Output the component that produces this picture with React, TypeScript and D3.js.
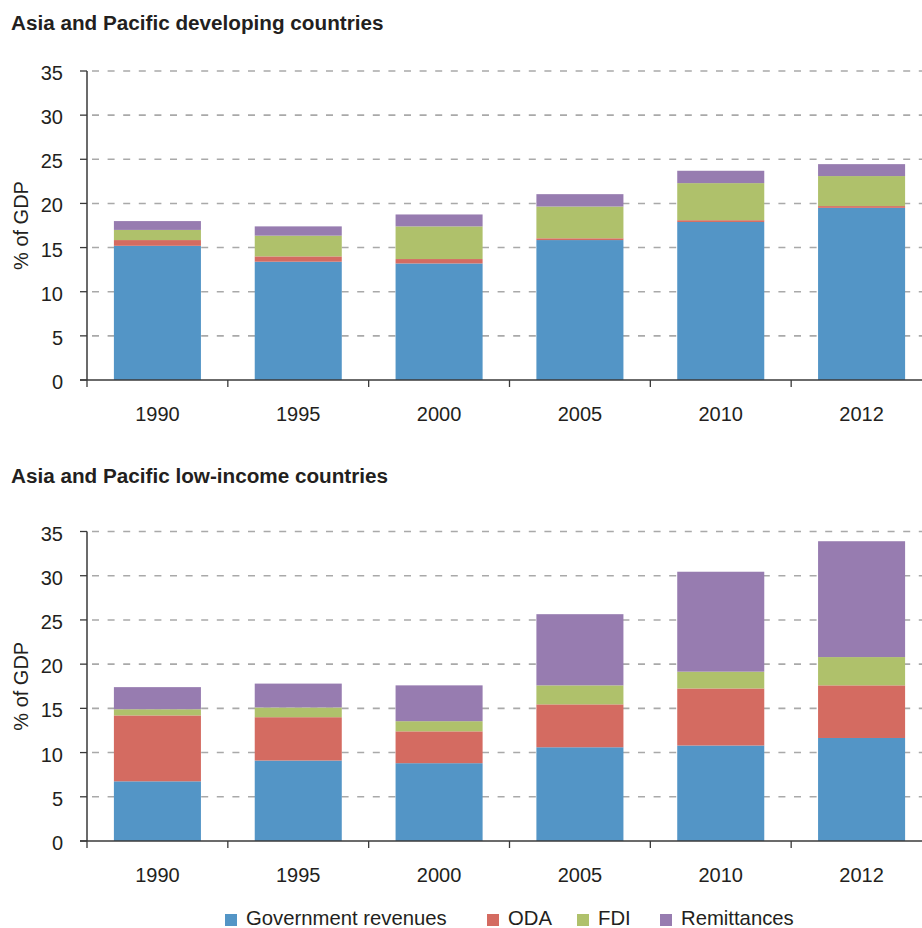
import React from "react";
import * as d3 from "d3";

const years = ["1990", "1995", "2000", "2005", "2010", "2012"];
const seriesNames = ["Government revenues", "ODA", "FDI", "Remittances"];
const seriesColors = ["#5395c6", "#d46b61", "#afc16b", "#977cb0"];
const yTicks = [0, 5, 10, 15, 20, 25, 30, 35];

// Asia and Pacific developing countries
const devGov = [15.2, 13.4, 13.2, 15.85, 17.9, 19.5];
const devODA = [0.65, 0.6, 0.5, 0.2, 0.2, 0.2];
const devFDI = [1.15, 2.35, 3.7, 3.6, 4.2, 3.4];
const devRem = [1.0, 1.05, 1.35, 1.4, 1.4, 1.35];

// Asia and Pacific low-income countries
const lowGov = [6.75, 9.1, 8.8, 10.6, 10.8, 11.65];
const lowODA = [7.45, 4.9, 3.6, 4.85, 6.45, 5.95];
const lowFDI = [0.7, 1.1, 1.15, 2.15, 1.9, 3.2];
const lowRem = [2.5, 2.7, 4.05, 8.05, 11.3, 13.1];

const FONT = "'Liberation Sans', Arial, Helvetica, sans-serif";
const TEXT = "#231f20";
const AXIS = "#3a3a3a";

type PanelProps = {
  title: string;
  titleY: number;
  top: number;
  bottom: number;
  gov: number[];
  oda: number[];
  fdi: number[];
  rem: number[];
};

function Panel({ title, titleY, top, bottom, gov, oda, fdi, rem }: PanelProps) {
  const left = 87;
  const right = 932;
  const rows = years.map((y, i) => ({
    year: y,
    s0: gov[i],
    s1: oda[i],
    s2: fdi[i],
    s3: rem[i],
  }));
  const stack = d3.stack<any>().keys(["s0", "s1", "s2", "s3"]);
  const layers = stack(rows);
  const x = d3.scaleBand<string>().domain(years).range([left, right]).padding(0);
  const y = d3.scaleLinear().domain([0, 35]).range([bottom, top]);
  const bw = x.bandwidth();
  const barW = bw * 0.618;
  const boundaries = years.map((yr) => x(yr) as number).concat([right]);

  return (
    <g>
      <text x={11} y={titleY} fontFamily={FONT} fontWeight="bold" fontSize={20.7} fill={TEXT}>
        {title}
      </text>
      {yTicks.filter((t) => t > 0).map((t) => (
        <line
          key={"g" + t}
          x1={left}
          x2={922}
          y1={y(t)}
          y2={y(t)}
          stroke="#a9a9a9"
          strokeWidth={1.6}
          strokeDasharray="7 8.6"
          strokeDashoffset={-5}
        />
      ))}
      {layers.map((layer, li) => (
        <g key={"l" + li} fill={seriesColors[li]}>
          {layer.map((d, i) => (
            <rect
              key={i}
              x={(x(years[i]) as number) + (bw - barW) / 2}
              y={y(d[1])}
              width={barW}
              height={y(d[0]) - y(d[1])}
            />
          ))}
        </g>
      ))}
      {/* y axis */}
      <line x1={left} x2={left} y1={y(35)} y2={bottom} stroke={AXIS} strokeWidth={1.5} />
      {yTicks.map((t) => (
        <g key={"t" + t}>
          <line x1={left - 7} x2={left} y1={y(t)} y2={y(t)} stroke={AXIS} strokeWidth={1.3} />
          <text
            x={63}
            y={y(t)}
            dy="0.45em"
            textAnchor="end"
            fontFamily={FONT}
            fontSize={20}
            fill={TEXT}
          >
            {t}
          </text>
        </g>
      ))}
      {/* x axis */}
      <line x1={left - 7} x2={922} y1={bottom} y2={bottom} stroke={AXIS} strokeWidth={1.5} />
      {boundaries.map((bx, i) => (
        <line key={"xt" + i} x1={bx} x2={bx} y1={bottom} y2={bottom + 7} stroke={AXIS} strokeWidth={1.3} />
      ))}
      {years.map((yr) => (
        <text
          key={"xl" + yr}
          x={(x(yr) as number) + bw / 2}
          y={bottom + 41}
          textAnchor="middle"
          fontFamily={FONT}
          fontSize={20}
          fill={TEXT}
        >
          {yr}
        </text>
      ))}
      <text
        transform={`translate(28, ${(top + bottom) / 2}) rotate(-90)`}
        textAnchor="middle"
        fontFamily={FONT}
        fontSize={20}
        fill={TEXT}
      >
        % of GDP
      </text>
    </g>
  );
}

const legendX = [225, 487, 577, 660];

export default function App() {
  return (
    <svg
      width={922}
      height={928}
      viewBox="0 0 922 928"
      style={{ position: "absolute", left: 0, top: 0, background: "#fff" }}
    >
      <rect x={0} y={0} width={922} height={928} fill="#fff" />
      <Panel
        title="Asia and Pacific developing countries"
        titleY={30}
        top={71}
        bottom={380}
        gov={devGov}
        oda={devODA}
        fdi={devFDI}
        rem={devRem}
      />
      <Panel
        title="Asia and Pacific low-income countries"
        titleY={483}
        top={531.5}
        bottom={841}
        gov={lowGov}
        oda={lowODA}
        fdi={lowFDI}
        rem={lowRem}
      />
      {seriesNames.map((name, i) => (
        <g key={name}>
          <rect x={legendX[i]} y={914} width={12} height={12} fill={seriesColors[i]} />
          <text
            x={legendX[i] + 21}
            y={925}
            fontFamily={FONT}
            fontSize={20.3}
            fill={TEXT}
          >
            {name}
          </text>
        </g>
      ))}
    </svg>
  );
}
